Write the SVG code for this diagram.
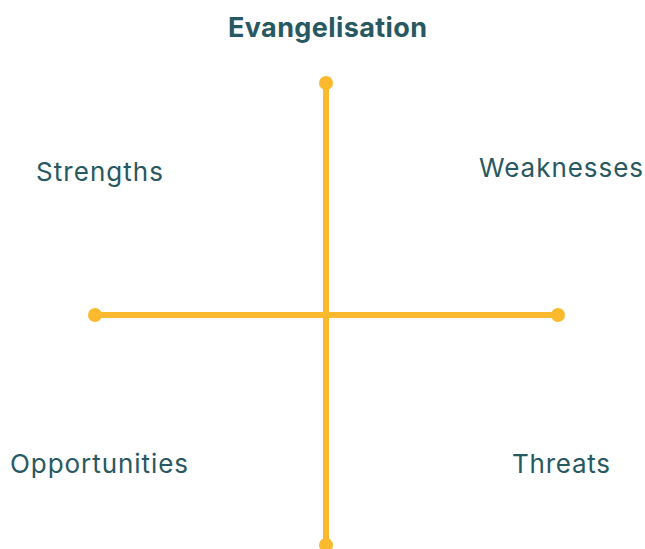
<svg xmlns="http://www.w3.org/2000/svg" width="645" height="549" viewBox="0 0 645 549">
<style>
.lbl{font-family:Inter,"Noto Sans",sans-serif;font-size:26px;fill:#285861}
.title{font-weight:bold;font-size:27px}
.ax{stroke:#FBBA2D;stroke-width:6;fill:none}
.dot{fill:#FBBA2D}
</style>
<rect width="645" height="549" fill="#fff"/>
<g id="connectors">
<line class="ax" x1="326" y1="83" x2="326" y2="545"/>
<line class="ax" x1="95" y1="315" x2="558" y2="315"/>
<circle class="dot" cx="326" cy="83" r="7"/>
<circle class="dot" cx="326" cy="545" r="7"/>
<circle class="dot" cx="95" cy="315" r="7"/>
<circle class="dot" cx="558" cy="315" r="7"/>
</g>
<g id="title"><text class="lbl title" x="228" y="37" textLength="199" lengthAdjust="spacing">Evangelisation</text></g>
<g id="strengths"><text class="lbl" x="36" y="181" textLength="127" lengthAdjust="spacing">Strengths</text></g>
<g id="weaknesses"><text class="lbl" x="479" y="177" textLength="164" lengthAdjust="spacing">Weaknesses</text></g>
<g id="opportunities"><text class="lbl" x="10" y="473" textLength="178" lengthAdjust="spacing">Opportunities</text></g>
<g id="threats"><text class="lbl" x="512" y="473" textLength="98" lengthAdjust="spacing">Threats</text></g>
</svg>
